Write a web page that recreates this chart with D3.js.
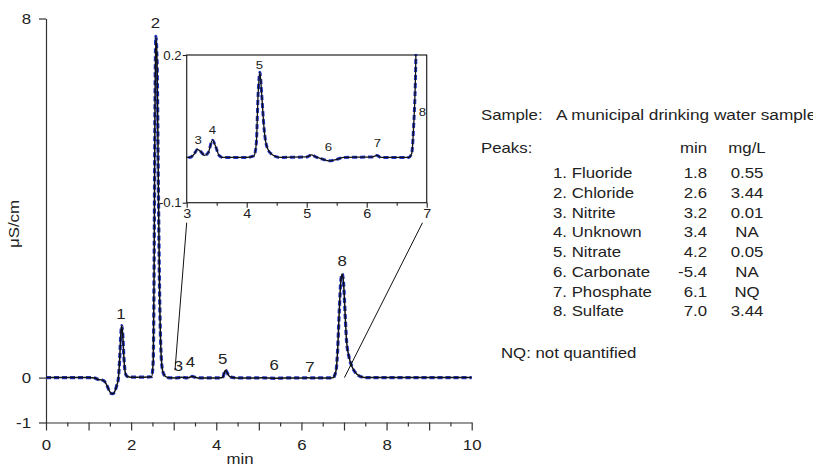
<!DOCTYPE html>
<html><head><meta charset="utf-8">
<script src="https://cdn.jsdelivr.net/npm/d3@7"></script>
<style>
html,body{margin:0;padding:0;background:#fff;}
svg{display:block;font-family:"Liberation Sans",Arial,Helvetica,sans-serif;}
</style></head>
<body>
<svg id="chart" width="813" height="468"></svg>
<script>
// ---- data ----
const traceTime = [0,0.5,1.0,1.15,1.22,1.30,1.36,1.42,1.48,1.53,1.57,1.62,1.66,1.70,1.73,1.76,1.78,1.80,1.83,1.86,1.90,2.00,2.30,2.48,2.52,2.54,2.56,2.58,2.61,2.64,2.67,2.70,2.74,2.80,2.90,3.05,3.12,3.18,3.24,3.30,3.36,3.43,3.48,3.54,3.60,4.00,4.12,4.16,4.19,4.22,4.25,4.29,4.34,4.42,4.55,5.00,5.08,5.15,5.25,5.38,5.50,5.62,6.10,6.17,6.24,6.70,6.75,6.78,6.82,6.85,6.89,6.93,6.96,6.99,7.03,7.06,7.12,7.20,7.30,7.40,7.55,8.00,10.00];
const traceSignal = [0,0,0,-0.01,-0.04,-0.05,-0.07,-0.15,-0.28,-0.35,-0.36,-0.30,-0.18,-0.02,0.4,1.0,1.16,1.0,0.45,0.12,0.03,0.01,0.01,0.02,0.4,2.5,6.0,7.6,7.0,4.2,1.8,0.6,0.15,0.03,-0.005,-0.008,-0.002,0.0085,0.003,-0.004,0.002,0.027,0.015,-0.004,-0.008,-0.008,-0.005,0.02,0.12,0.165,0.12,0.05,0.012,-0.002,-0.008,-0.007,-0.003,-0.007,-0.011,-0.015,-0.012,-0.008,-0.007,-0.004,-0.008,-0.008,0.0,0.05,0.2,0.6,1.5,2.2,2.31,2.1,1.35,0.82,0.45,0.22,0.08,0.02,0,0,0];

const peakIds = ["1","2","3","4","5","6","7","8"];
const mainLabelTime = [1.76,2.57,3.11,3.39,4.15,5.36,6.20,6.96];
const mainLabelSignal = [1.42,7.89,0.25,0.35,0.42,0.28,0.24,2.6];
const insetLabelIds = ["3","4","5","6","7","8"];
const insetLabelTime = [3.19,3.43,4.21,5.36,6.18,6.93];
const insetLabelSignal = [0.028,0.047,0.18,0.013,0.022,0.085];

const mainXTicks = [0,2,4,6,8,10];
const mainYTicks = [-1,0,8];
const mainYTickLabels = ["-1","0","8"];
const insetXTicks = [3,4,5,6,7];
const insetYTicks = [-0.1,0.2];
const insetYTickLabels = ["-0.1","0.2"];

const peakNames = ["1. Fluoride","2. Chloride","3. Nitrite","4. Unknown","5. Nitrate","6. Carbonate","7. Phosphate","8. Sulfate"];
const peakMin = ["1.8","2.6","3.2","3.4","4.2","-5.4","6.1","7.0"];
const peakConc = ["0.55","3.44","0.01","NA","0.05","NA","NQ","3.44"];

// connectors: [inset time, main time, main signal]
const connectors = [[3.0,3.03,0.166],[6.93,7.01,0.0]];

// ---- drawing ----
const SX = 1.2;
const svg = d3.select("#chart");
const ink = "#222";

function txt(g, x, y, s, size, anchor, sx){
  return g.append("text").attr("transform",`translate(${x},${y}) scale(${sx||SX},1)`)
    .attr("text-anchor", anchor||"start").attr("font-size", size).attr("fill", ink).text(s);
}

const x = d3.scaleLinear().domain([0,10]).range([46,471.7]);
const y = d3.scaleLinear().domain([-1,8]).range([422.5,18.5]);

const line = d3.line().x((d,i)=>x(traceTime[i])).y((d,i)=>y(traceSignal[i])).curve(d3.curveMonotoneX);

// main axes
const xAxisG = svg.append("g").attr("transform",`translate(0,${y(-1)})`)
  .call(d3.axisBottom(x).tickValues(d3.range(0,10.001,0.5)).tickSize(8).tickSizeOuter(0)
    .tickFormat(d=> mainXTicks.includes(d) ? String(d) : ""));
xAxisG.select(".domain").attr("stroke","#333").attr("stroke-width",1.2);
xAxisG.selectAll(".tick line").attr("stroke","#333").attr("stroke-width",1.2)
  .attr("y2", d=> Number.isInteger(d) ? 8 : 4);
xAxisG.selectAll(".tick text").attr("y",0).attr("dy",null)
  .attr("transform",`translate(0,27) scale(${SX},1)`).attr("font-size",14).attr("fill",ink)
  .attr("font-family","Liberation Sans, Arial, sans-serif");

const yAxisG = svg.append("g").attr("transform",`translate(${x(0)},0)`)
  .call(d3.axisLeft(y).tickValues(mainYTicks).tickSize(7).tickSizeOuter(0)
    .tickFormat(d=> mainYTickLabels[mainYTicks.indexOf(d)]));
yAxisG.select(".domain").attr("stroke","#333").attr("stroke-width",1.2);
yAxisG.selectAll(".tick line").attr("stroke","#333").attr("stroke-width",1.2);
yAxisG.selectAll(".tick text").attr("x",0).attr("dy","0.35em")
  .attr("transform",`translate(-15,0) scale(${SX},1)`).attr("font-size",14).attr("fill",ink)
  .attr("font-family","Liberation Sans, Arial, sans-serif");

// axis titles
txt(svg, 240, 464, "min", 14, "middle");
svg.append("text").attr("transform",`translate(19,224) rotate(-90) scale(${SX},1)`)
  .attr("text-anchor","middle").attr("font-size",14).attr("fill",ink).text("\u03bcS/cm");

// main trace
const traceData = traceTime.map((t,i)=>traceSignal[i]);
svg.append("path").datum(traceData).attr("d",line).attr("fill","none")
  .attr("stroke","#2436c8").attr("stroke-width",3.2).attr("stroke-dasharray","5,3").attr("stroke-linejoin","round");
svg.append("path").datum(traceData).attr("d",line).attr("fill","none")
  .attr("stroke","#111").attr("stroke-width",1.5).attr("stroke-linejoin","round");

// main peak labels
peakIds.forEach((p,i)=>{
  txt(svg, x(mainLabelTime[i]), y(mainLabelSignal[i])+5, p, 14, "middle");
});

// inset
const xi = d3.scaleLinear().domain([3,7]).range([186.7,426.7]);
const yi = d3.scaleLinear().domain([-0.1,0.2]).range([202.7,55]);

// connectors
connectors.forEach(c=>{
  svg.append("line").attr("x1", xi(c[0])).attr("y1", yi(-0.1)+20)
    .attr("x2", x(c[1])).attr("y2", y(c[2])).attr("stroke","#111").attr("stroke-width",1);
});

const inset = svg.append("g");
inset.append("rect").attr("x",xi(3)).attr("y",yi(0.2)).attr("width",xi(7)-xi(3)).attr("height",yi(-0.1)-yi(0.2))
  .attr("fill","#fff").attr("stroke","#222").attr("stroke-width",1.2);

svg.append("defs").append("clipPath").attr("id","insetClip").append("rect")
  .attr("x",xi(3)).attr("y",yi(0.2)-1).attr("width",xi(7)-xi(3)).attr("height",yi(-0.1)-yi(0.2)+1);

const ixAxis = inset.append("g").attr("transform",`translate(0,${yi(-0.1)})`)
  .call(d3.axisBottom(xi).tickValues(d3.range(3,7.001,0.5)).tickSize(5).tickSizeOuter(0)
    .tickFormat(d=> insetXTicks.includes(d) ? String(d) : ""));
ixAxis.select(".domain").remove();
ixAxis.selectAll(".tick line").attr("stroke","#222").attr("stroke-width",1.1)
  .attr("y2", d=> Number.isInteger(d) ? 5 : 3);
ixAxis.selectAll(".tick text").attr("y",0).attr("dy",null)
  .attr("transform",`translate(0,15) scale(${SX},1)`).attr("font-size",12).attr("fill",ink)
  .attr("font-family","Liberation Sans, Arial, sans-serif");

const iyAxis = inset.append("g").attr("transform",`translate(${xi(3)},0)`)
  .call(d3.axisLeft(yi).tickValues(insetYTicks).tickSize(4).tickSizeOuter(0)
    .tickFormat(d=> insetYTickLabels[insetYTicks.indexOf(d)]));
iyAxis.select(".domain").remove();
iyAxis.selectAll(".tick line").attr("stroke","#222").attr("stroke-width",1.1);
iyAxis.selectAll(".tick text").attr("x",0).attr("dy","0.35em")
  .attr("transform",`translate(-5,0) scale(1.1,1)`).attr("font-size",12).attr("fill",ink)
  .attr("font-family","Liberation Sans, Arial, sans-serif");

const iline = d3.line().x((d,i)=>xi(traceTime[i])).y((d,i)=>yi(traceSignal[i])).curve(d3.curveMonotoneX);
const ig = inset.append("g").attr("clip-path","url(#insetClip)");
ig.append("path").datum(traceData).attr("d",iline).attr("fill","none")
  .attr("stroke","#2436c8").attr("stroke-width",3).attr("stroke-dasharray","5,3").attr("stroke-linejoin","round");
ig.append("path").datum(traceData).attr("d",iline).attr("fill","none")
  .attr("stroke","#111").attr("stroke-width",1.3).attr("stroke-linejoin","round");

insetLabelIds.forEach((p,i)=>{
  txt(inset, xi(insetLabelTime[i]), yi(insetLabelSignal[i])+4, p, 11, "middle");
});

// legend text
const lg = svg.append("g");
txt(lg, 481, 120, "Sample:", 14, "start");
txt(lg, 556, 120, "A municipal drinking water sample", 14, "start", 1.23);
txt(lg, 481, 153, "Peaks:", 14, "start");
txt(lg, 707, 153, "min", 14, "end");
txt(lg, 747, 153, "mg/L", 14, "middle");
peakNames.forEach((n,i)=>{
  const yy = 178.3 + i*19.7;
  txt(lg, 553, yy, n, 14, "start");
  txt(lg, 707, yy, peakMin[i], 14, "end");
  txt(lg, 747, yy, peakConc[i], 14, "middle");
});
txt(lg, 501, 358, "NQ: not quantified", 14, "start");
</script>
</body></html>
